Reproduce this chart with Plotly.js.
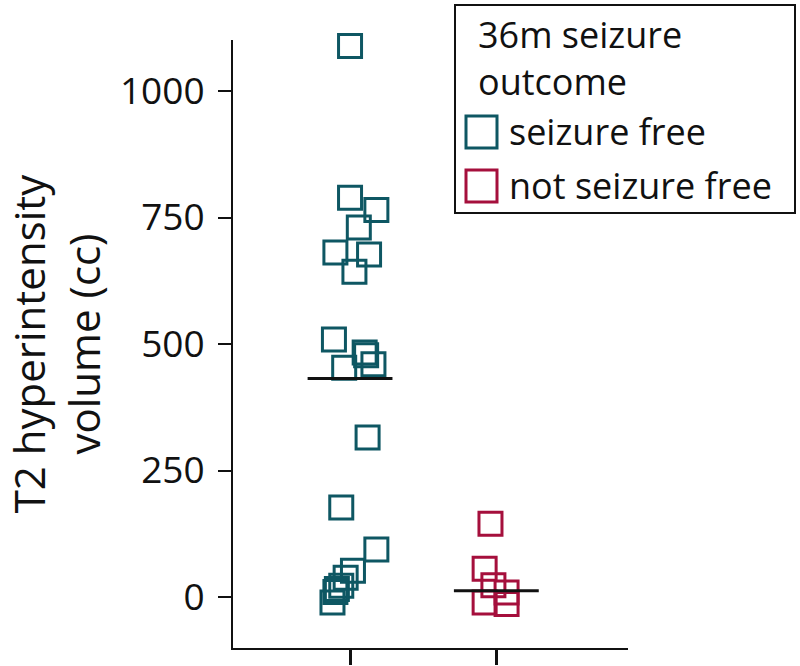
<!DOCTYPE html>
<html>
<head>
<meta charset="utf-8">
<script src="https://cdn.plot.ly/plotly-3.0.1.min.js"></script>
<style>html,body{margin:0;padding:0;background:#fff;}#chart{width:800px;height:666px;}</style>
</head>
<body>
<div id="chart"></div>
<script>
// ---- data ----
var groups = ["seizure free", "not seizure free"];
var groupPos = [1, 2];
var sfValues = [1089, 789, 765, 730, 681, 677, 643, 509, 483, 478, 460, 453, 315, 177, 94, 52, 38, 22, 16, 10, -11];
var sfJitter = [0.00, 0.00, 0.18, 0.06, -0.10, 0.13, 0.03, -0.11, 0.10, 0.11, 0.16, -0.04, 0.12, -0.06, 0.18, 0.02, -0.03, -0.06, -0.09, -0.10, -0.12];
var nsfValues = [145, 56, 23, 9, -11, -14];
var nsfJitter = [-0.04, -0.08, -0.02, 0.07, -0.08, 0.07];
var centerLine = [432, 12.5];
var yTicks = [0, 250, 500, 750, 1000];
var legendTitle = "36m seizure<br>outcome";
var yTitle = "T2 hyperintensity<br>volume (cc)";

// ---- styling ----
var colors = ["#0e5763", "#a50f3c"];
var ink = "#111111";
var FONT = "Open Sans, Lato, sans-serif";
var halfW = 0.29;

function xs(pos, jit) { return jit.map(function (j) { return pos + j; }); }

var traces = [
  {
    x: xs(groupPos[0], sfJitter), y: sfValues, type: "scatter", mode: "markers", name: groups[0],
    marker: { symbol: "square-open", size: 23, color: colors[0], line: { width: 3, color: colors[0] } },
    showlegend: false, hoverinfo: "y", cliponaxis: false
  },
  {
    x: xs(groupPos[1], nsfJitter), y: nsfValues, type: "scatter", mode: "markers", name: groups[1],
    marker: { symbol: "square-open", size: 23, color: colors[1], line: { width: 3, color: colors[1] } },
    showlegend: false, hoverinfo: "y", cliponaxis: false
  }
];
groupPos.forEach(function (p, i) {
  traces.push({
    x: [p - halfW, p + halfW], y: [centerLine[i], centerLine[i]], type: "scatter", mode: "lines",
    line: { color: ink, width: 3 }, showlegend: false, hoverinfo: "skip", cliponaxis: false
  });
});

// manual legend (pixel -> paper helpers)
var L = 233, R = 628, T = 40, B = 648;
function px(x) { return (x - L) / (R - L); }
function py(y) { return (B - y) / (B - T); }

var shapes = [
  { type: "rect", xref: "paper", yref: "paper", x0: px(455), x1: px(795), y0: py(213), y1: py(5),
    line: { color: ink, width: 2 }, fillcolor: "rgba(0,0,0,0)" },
  { type: "rect", xref: "paper", yref: "paper", x0: px(466), x1: px(497), y0: py(148), y1: py(116),
    line: { color: colors[0], width: 3 } },
  { type: "rect", xref: "paper", yref: "paper", x0: px(466), x1: px(497), y0: py(202), y1: py(170),
    line: { color: colors[1], width: 3 } }
];
var annotations = [
  { xref: "paper", yref: "paper", x: px(476), y: py(8), xanchor: "left", yanchor: "top", align: "left",
    text: legendTitle, showarrow: false, font: { family: FONT, size: 36, color: ink } },
  { xref: "paper", yref: "paper", x: px(507), y: py(131), xanchor: "left", yanchor: "middle",
    text: groups[0], showarrow: false, font: { family: FONT, size: 36, color: ink } },
  { xref: "paper", yref: "paper", x: px(507), y: py(185), xanchor: "left", yanchor: "middle",
    text: groups[1], showarrow: false, font: { family: FONT, size: 36, color: ink } }
];

var layout = {
  width: 800, height: 666,
  margin: { l: L, r: 800 - R, t: T, b: 666 - B },
  paper_bgcolor: "#fff", plot_bgcolor: "#fff",
  showlegend: false,
  font: { family: FONT, color: ink },
  xaxis: {
    range: [0.2, 2.9], tickvals: groupPos, ticktext: ["", ""],
    ticks: "outside", ticklen: 15, tickwidth: 3, tickcolor: ink,
    showline: true, linewidth: 2, linecolor: ink, showgrid: false, zeroline: false, fixedrange: true
  },
  yaxis: {
    range: [-100.8, 1100.8], tickvals: yTicks, ticktext: yTicks.map(String),
    ticks: "outside", ticklen: 13, tickwidth: 2, tickcolor: ink,
    showline: true, linewidth: 2, linecolor: ink, showgrid: false, zeroline: false,
    tickfont: { family: FONT, size: 37, color: ink }, ticklabelstandoff: 6,
    title: { text: yTitle, font: { family: FONT, size: 42, color: ink }, standoff: 10 },
    automargin: false, fixedrange: true
  },
  shapes: shapes,
  annotations: annotations
};

Plotly.newPlot("chart", traces, layout, { staticPlot: true });
</script>
</body>
</html>
